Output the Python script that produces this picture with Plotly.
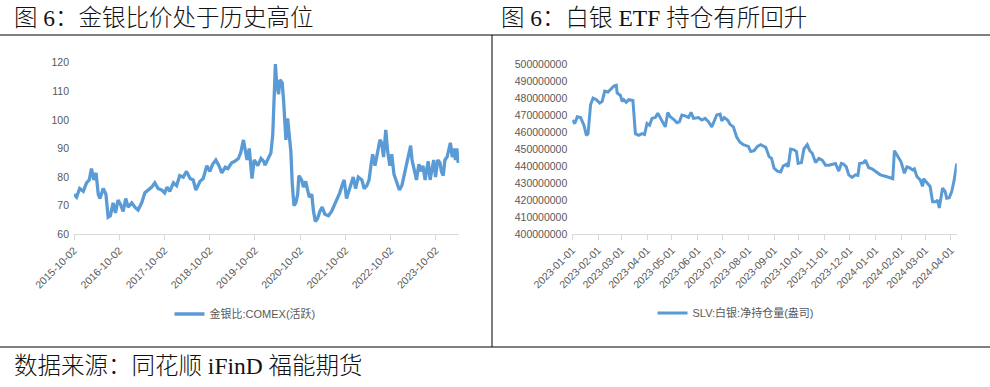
import plotly.graph_objects as go
import pandas as pd

# ---------------- data: gold/silver ratio (COMEX, active) ----------------
gsr_dates = (
    ["2015-10-02", "2015-10-23", "2015-11-17", "2015-12-16"]
    + ["2016-01-11", "2016-02-02", "2016-02-20", "2016-03-10", "2016-03-28", "2016-04-15",
       "2016-04-29", "2016-05-25", "2016-06-16", "2016-07-04", "2016-07-22", "2016-08-13",
       "2016-09-01", "2016-09-22", "2016-10-11", "2016-11-02", "2016-11-23", "2016-12-12"]
    + ["2017-01-11", "2017-02-05", "2017-03-03", "2017-04-01", "2017-04-27", "2017-05-22",
       "2017-06-21", "2017-07-16", "2017-08-11", "2017-09-09", "2017-10-04", "2017-10-23",
       "2017-11-14", "2017-12-13"]
    + ["2018-01-08", "2018-02-02", "2018-03-03", "2018-03-29", "2018-04-27", "2018-05-22",
       "2018-06-13", "2018-07-16", "2018-08-11", "2018-09-09", "2018-10-04", "2018-10-26",
       "2018-11-21", "2018-12-16"]
    + ["2019-01-08", "2019-02-05", "2019-02-27", "2019-03-29", "2019-04-23", "2019-05-22",
       "2019-06-10", "2019-07-02", "2019-07-16", "2019-07-31", "2019-08-18", "2019-09-09",
       "2019-09-27", "2019-10-26", "2019-11-21", "2019-12-13", "2019-12-24"]
    + ["2020-01-18", "2020-02-09", "2020-02-24", "2020-03-16", "2020-03-28", "2020-04-11",
       "2020-04-22", "2020-05-10", "2020-05-21", "2020-06-01", "2020-06-09", "2020-06-23",
       "2020-07-04", "2020-07-19", "2020-07-30", "2020-08-13", "2020-08-28", "2020-09-12",
       "2020-09-22", "2020-10-14", "2020-10-29", "2020-11-16", "2020-12-01", "2020-12-15"]
    + ["2021-01-04", "2021-01-18", "2021-02-02", "2021-02-20", "2021-03-10", "2021-03-29",
       "2021-04-20", "2021-05-19", "2021-06-13", "2021-07-09", "2021-07-31", "2021-08-18",
       "2021-09-09", "2021-09-23", "2021-10-12", "2021-11-10", "2021-12-05", "2021-12-24"]
    + ["2022-01-15", "2022-02-13", "2022-03-03", "2022-03-25", "2022-04-12", "2022-04-27",
       "2022-05-11", "2022-05-30", "2022-06-21", "2022-07-09", "2022-07-23", "2022-08-07",
       "2022-08-25", "2022-09-09", "2022-09-27", "2022-10-12", "2022-10-30", "2022-11-21",
       "2022-12-13"]
    + ["2023-01-02", "2023-01-22", "2023-02-09", "2023-02-27", "2023-03-14", "2023-03-25",
       "2023-04-12", "2023-04-30", "2023-05-19", "2023-06-06", "2023-06-21", "2023-07-09",
       "2023-07-23", "2023-08-03", "2023-08-18", "2023-09-05", "2023-09-16", "2023-10-01",
       "2023-10-19", "2023-11-06", "2023-11-17", "2023-12-02", "2023-12-16"]
    + ["2024-01-02", "2024-01-18", "2024-01-29", "2024-02-13", "2024-02-27", "2024-03-10",
       "2024-03-21", "2024-04-01"]
)
gsr_values = (
    [74, 73, 76, 75]
    + [78, 79, 83, 79, 81.5, 74, 72.5, 76, 74, 66, 66.5, 71, 67.5, 72, 70.5, 68, 72.5, 69.5]
    + [71, 69.5, 68.5, 71, 74.5, 75.5, 76.5, 78, 76, 75.5, 74.5, 76.5, 75, 78]
    + [77, 80.5, 80, 82, 79.5, 79, 75.5, 78.5, 79.5, 84, 82, 84.5, 86, 84]
    + [81.5, 83.5, 83, 85, 85.5, 86.5, 88.5, 93, 90, 86, 90, 79.5, 86, 84, 86.5, 85.5, 84.2]
    + [86.5, 88.5, 95, 119.5, 112, 109, 114, 113, 107, 99, 93, 100.5, 94, 89, 78, 70, 71, 74,
       80.5, 79, 76.5, 78.5, 75.5, 73]
    + [74, 68, 64.5, 65.5, 68, 69.5, 67, 66.5, 68, 70.5, 72.5, 74.5, 77.5, 79, 72.5, 77, 80, 76]
    + [80, 79, 76, 77, 79, 84, 88, 84, 89, 93, 92, 87, 96.5, 89, 84, 88, 81, 78.5, 75.5]
    + [77, 81, 84, 87, 91, 86, 82, 79, 84.5, 82, 84, 79, 83, 85.5, 79, 83, 86, 80, 86, 85, 82,
       80.5, 86]
    + [87, 90, 92, 87, 90, 86, 90, 85]
)
gsr_ticks = ["2015-10-02", "2016-10-02", "2017-10-02", "2018-10-02", "2019-10-02",
             "2020-10-02", "2021-10-02", "2022-10-02", "2023-10-02"]
gsr_name = "金银比:COMEX(活跃)"

# ---------------- data: SLV net holdings (ounces) ----------------
slv_start = "2023-01-01"
slv_day = [0, 3, 6, 10, 14, 17, 19, 22, 25, 29,
           33, 36, 39, 43, 46, 50, 53, 54, 58, 60,
           62, 65, 68, 73, 76, 80, 84, 87, 90, 93,
           96, 100, 103, 106, 110, 112, 115, 118, 122, 126,
           129, 132, 136, 140, 143, 146, 152, 156, 160, 164,
           168, 171, 174, 178, 180, 183, 187, 190, 194, 198,
           202, 206, 212, 215, 219, 223, 227, 233, 237, 240,
           243, 247, 251, 254, 258, 260, 263, 267, 270, 272,
           276, 279, 283, 286, 289, 293, 297, 301, 305, 309,
           313, 317, 321, 324, 327, 330, 333, 337, 341, 344,
           346, 351, 353, 357, 361, 365, 371, 378, 384, 386,
           388, 392, 396, 400, 403, 406, 410, 412, 415, 419,
           422, 423, 427, 431, 434, 438, 440, 442, 446, 449,
           451, 454, 457, 460, 463]
slv_million_oz = [467, 465, 469, 468.5, 464, 458, 459, 476, 480, 479,
                  477, 478, 484, 483.5, 485, 487, 487.5, 483, 481.5, 478,
                  479, 477.5, 479, 478.5, 459, 458, 459, 458.5, 465, 464,
                  468, 468.5, 471, 468, 464, 463, 471.5, 469, 467.5, 465.5,
                  466, 470, 469.5, 468.5, 471.5, 468, 468.5, 467, 468, 466,
                  463, 467, 470, 470.5, 466.5, 468.5, 467, 464.5, 463, 457,
                  454, 452.5, 451.5, 448.5, 449, 451.5, 452.5, 451, 445.5, 444.5,
                  438.7, 437, 436.5, 440, 441, 439.5, 450, 449.5, 448.5, 441.5,
                  442, 450, 452.5, 449, 447.5, 442, 444.5, 443.5, 440.5, 440.5,
                  441, 441.5, 437, 441.5, 441, 439.5, 434.8, 433.3, 434.8, 434.5,
                  441.5, 442, 443.5, 439, 438.3, 437, 434.8, 433.8, 433, 432.5,
                  449, 445.5, 442.5, 435.7, 439.5, 439, 437.7, 438.3, 433.8, 431.8,
                  428, 432.5, 430.5, 428, 419, 419, 420, 415.3, 427, 425,
                  421, 421.3, 425, 431.8, 441.5]
slv_ticks = ["2023-01-01", "2023-02-01", "2023-03-01", "2023-04-01", "2023-05-01",
             "2023-06-01", "2023-07-01", "2023-08-01", "2023-09-01", "2023-10-01",
             "2023-11-01", "2023-12-01", "2024-01-01", "2024-02-01", "2024-03-01",
             "2024-04-01"]
slv_yticks = [400000000, 410000000, 420000000, 430000000, 440000000, 450000000,
              460000000, 470000000, 480000000, 490000000, 500000000]
slv_name = "SLV:白银:净持仓量(盎司)"

title_left = "图 6：金银比价处于历史高位"
title_right = "图 6：白银 ETF 持仓有所回升"
source_text = "数据来源：同花顺 iFinD 福能期货"

assert len(gsr_dates) == len(gsr_values)
assert len(slv_day) == len(slv_million_oz)

slv_dates = pd.Timestamp(slv_start) + pd.to_timedelta(slv_day, unit="D")
slv_values = [v * 1e6 for v in slv_million_oz]

# ---------------- figure ----------------
W, H = 990, 387
BLUE = "#5B9BD5"
GREY_TXT = "#595959"
AX = "#D9D9D9"
TICK_FONT = dict(family="Liberation Sans, Noto Sans CJK SC", size=10.5, color=GREY_TXT)
TITLE_FONT = dict(family="Liberation Serif, Noto Sans CJK SC", size=23.5, color="#111111",
                  weight=300)
LEG_FONT = dict(family="Liberation Sans, Noto Sans CJK SC", size=11, color=GREY_TXT)


def px(v):
    return v / W


def py(v):
    return 1 - v / H


fig = go.Figure()
fig.add_trace(go.Scatter(x=gsr_dates, y=gsr_values, mode="lines", name=gsr_name,
                         line=dict(color=BLUE, width=3.3), xaxis="x", yaxis="y",
                         legend="legend"))
fig.add_trace(go.Scatter(x=slv_dates, y=slv_values, mode="lines", name=slv_name,
                         line=dict(color=BLUE, width=3), xaxis="x2", yaxis="y2",
                         legend="legend2"))

common_x = dict(type="date", showgrid=False, zeroline=False, showline=True, linecolor=AX,
                linewidth=1, ticks="outside", ticklen=5, tickcolor=AX, tickwidth=1,
                tickangle=-45, tickfont=TICK_FONT, automargin=False)
common_y = dict(showgrid=False, zeroline=False, showline=False, ticks="",
                tickfont=TICK_FONT, ticklabelstandoff=4, automargin=False)

fig.update_layout(
    template="none",
    width=W, height=H,
    autosize=False,
    margin=dict(l=0, r=0, t=0, b=0, pad=0),
    paper_bgcolor="white", plot_bgcolor="white",
    xaxis=dict(common_x, domain=[px(74), px(459.3)], anchor="y",
               range=["2015-10-02", "2024-04-10"],
               tickmode="array", tickvals=gsr_ticks, ticktext=gsr_ticks),
    yaxis=dict(common_y, domain=[py(234.3), py(62.7)], anchor="x",
               range=[60, 120], tickmode="linear", tick0=60, dtick=10),
    xaxis2=dict(common_x, domain=[px(572.3), px(956.7)], anchor="y2",
                range=["2023-01-01", "2024-04-08"],
                tickmode="array", tickvals=slv_ticks, ticktext=slv_ticks),
    yaxis2=dict(common_y, domain=[py(234), py(64)], anchor="x2",
                range=[400000000, 500000000], tickmode="array",
                tickvals=slv_yticks, ticktext=[str(v) for v in slv_yticks]),
    legend=dict(x=px(245), y=py(314), xanchor="center", yanchor="middle",
                orientation="h", bgcolor="rgba(0,0,0,0)", borderwidth=0, font=LEG_FONT),
    legend2=dict(x=px(736), y=py(313), xanchor="center", yanchor="middle",
                 orientation="h", bgcolor="rgba(0,0,0,0)", borderwidth=0, font=LEG_FONT),
    showlegend=True,
)

line_style = dict(color="black", width=1)
fig.add_shape(type="line", xref="paper", yref="paper", x0=0, x1=1, y0=py(35), y1=py(35),
              line=line_style)
fig.add_shape(type="line", xref="paper", yref="paper", x0=0, x1=1, y0=py(347), y1=py(347),
              line=line_style)
fig.add_shape(type="line", xref="paper", yref="paper", x0=px(492), x1=px(492),
              y0=py(35), y1=py(347), line=line_style)

fig.add_annotation(text=title_left, xref="paper", yref="paper", x=px(12), y=py(17.5),
                   xanchor="left", yanchor="middle", showarrow=False, font=TITLE_FONT)
fig.add_annotation(text=title_right, xref="paper", yref="paper", x=px(499), y=py(17.5),
                   xanchor="left", yanchor="middle", showarrow=False, font=TITLE_FONT)
fig.add_annotation(text=source_text, xref="paper", yref="paper", x=px(12), y=py(366),
                   xanchor="left", yanchor="middle", showarrow=False, font=TITLE_FONT)

fig.write_html("out.html",
               config={"displayModeBar": False},
               post_script="document.body.style.margin='0';document.body.style.padding='0';")
